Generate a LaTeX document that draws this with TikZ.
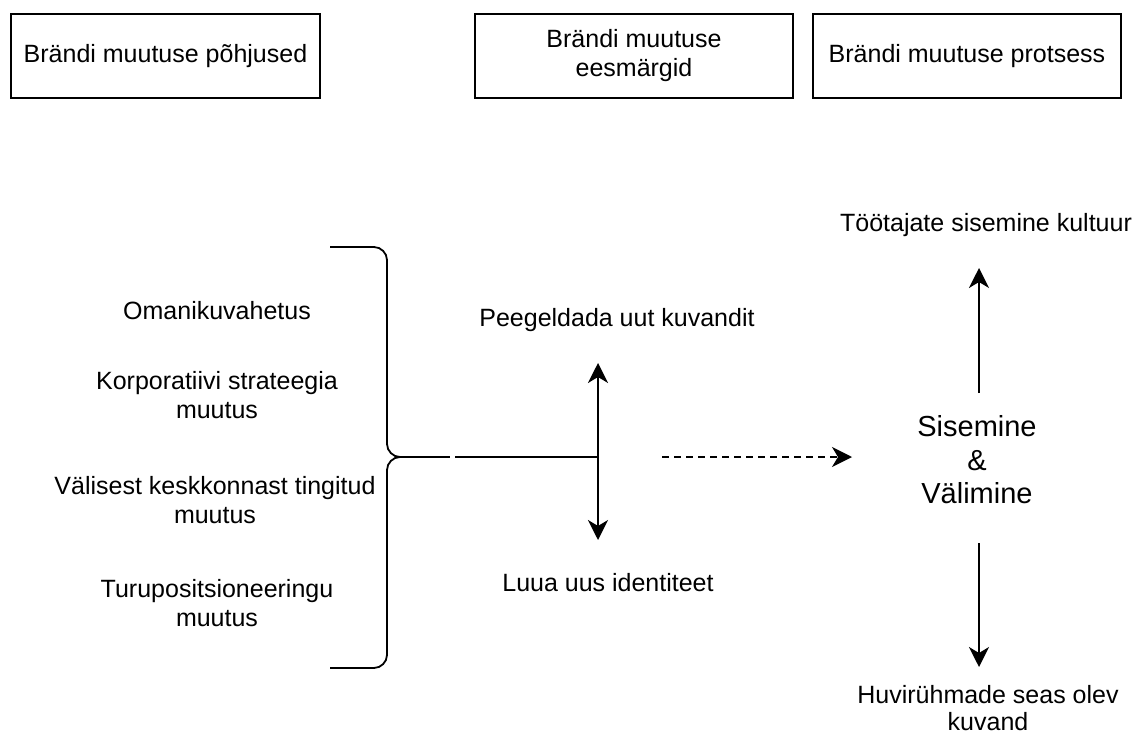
\documentclass[tikz,border=0pt]{standalone}
\usepackage{fontspec}
\setmainfont{Liberation Sans}
\usetikzlibrary{arrows.meta,shadows}

\begin{document}
\begin{tikzpicture}[
    x=1pt,
    y=-1pt,
    line width=1.8pt,
    header/.style={
      draw,
      fill=white,
      rectangle,
      minimum width=309pt,
      minimum height=84pt,
      align=center,
      drop shadow={shadow xshift=1.2pt, shadow yshift=-1.2pt, fill=gray!70},
      font=\fontsize{25}{29}\selectfont
    },
    textnode/.style={
      align=center,
      inner sep=0pt,
      font=\fontsize{25}{29}\selectfont
    },
    arrowhead/.style={
      -{Stealth[length=20pt, width=20pt, inset=6pt]}
    }
  ]
    \useasboundingbox (0, 0) rectangle (1141, 736);

    \node[header] (reasons) at (165.5, 56) {Brändi muutuse põhjused};
    \node[header, minimum width=318pt] (goals) at (634, 56) {Brändi muutuse\\eesmärgid};
    \node[header, minimum width=308pt] (process) at (967, 56) {Brändi muutuse protsess};

    \node[textnode] (owner) at (217, 311) {Omanikuvahetus};
    \node[textnode] (strategy) at (217, 395) {Korporatiivi strateegia\\muutus};
    \node[textnode] (external) at (215, 500) {Välisest keskkonnast tingitud\\muutus};
    \node[textnode] (market) at (217, 603) {Turupositsioneeringu\\muutus};

    \node[textnode] (reflect) at (617, 320) {Peegeldada uut kuvandit};
    \node[textnode] (identity) at (608, 583) {Luua uus identiteet};

    \node[textnode] (staff) at (986, 225) {Töötajate sisemine kultuur};
    \node[textnode, font=\fontsize{29}{33.5}\selectfont] (scope) at (977, 460) {Sisemine\\\&\\Välimine};
    \node[textnode, font=\fontsize{25}{27.5}\selectfont] (stake) at (988, 708) {Huvirühmade seas olev\\kuvand};

    \coordinate (bracetip) at (400, 457);
    \coordinate (stemend) at (450, 457);
    \coordinate (stemstart) at (455, 457);
    \coordinate (junction) at (598, 457);
    \coordinate (goalup) at (598, 363);
    \coordinate (goaldown) at (598, 540);
    \coordinate (dashstart) at (662, 457);
    \coordinate (dashend) at (852, 457);
    \coordinate (upstart) at (979, 393);
    \coordinate (upend) at (979, 268);
    \coordinate (downstart) at (979, 543);
    \coordinate (downend) at (979, 667);

    % curly bracket
    \draw (330, 247) -- (374, 247)
      .. controls (381, 247) and (387, 253) .. (387, 260)
      -- (387, 444)
      .. controls (387, 451) and (393, 457) .. (bracetip)
      .. controls (393, 457) and (387, 463) .. (387, 470)
      -- (387, 655)
      .. controls (387, 662) and (381, 668) .. (374, 668)
      -- (330, 668);

    \draw[-] (bracetip) to (stemend);
    \draw[-] (stemstart) to (junction);
    \draw[arrowhead] (junction) to (goalup);
    \draw[arrowhead] (junction) to (goaldown);
    \draw[arrowhead, dash pattern=on 7pt off 5pt] (dashstart) to (dashend);
    \draw[arrowhead] (upstart) to (upend);
    \draw[arrowhead] (downstart) to (downend);
  \end{tikzpicture}
\end{document}
